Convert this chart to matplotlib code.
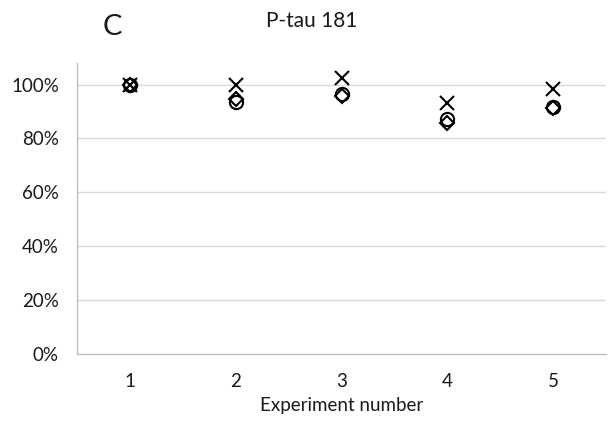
import matplotlib
matplotlib.use("Agg")
import matplotlib.pyplot as plt
from matplotlib.ticker import PercentFormatter

plt.rcParams['font.family'] = ['Lato', 'DejaVu Sans']

experiments = [1, 2, 3, 4, 5]
series_x = [1.00, 1.00, 1.024, 0.931, 0.983]
series_circle = [1.00, 0.937, 0.965, 0.871, 0.918]
series_diamond = [1.00, 0.945, 0.958, 0.856, 0.912]
y_ticks = [0, 0.2, 0.4, 0.6, 0.8, 1.0]

fig = plt.figure(figsize=(6.13, 4.34), dpi=100)
ax = fig.add_axes([0.1256, 0.1843, 0.863, 0.6705])

grid_c = '#d9d9d9'
axis_c = '#bfbfbf'
text_c = '#1a1a1a'

ax.plot(experiments, series_diamond, linestyle='none', marker='D', ms=7.5,
        mfc='none', mec='black', mew=1.5, zorder=3)
ax.plot(experiments, series_circle, linestyle='none', marker='o', ms=9.5,
        mfc='none', mec='black', mew=1.5, zorder=3)
ax.plot(experiments, series_x, linestyle='none', marker='x', ms=9.5,
        mec='black', mew=1.5, zorder=4)

ax.set_xlim(0.5, 5.5)
ax.set_ylim(0, 1.08)
ax.set_yticks(y_ticks)
ax.yaxis.set_major_formatter(PercentFormatter(1.0, decimals=0))
ax.set_xticks(experiments)

for y in y_ticks[1:]:
    ax.axhline(y, color=grid_c, lw=1, zorder=1)

for s in ['top', 'right']:
    ax.spines[s].set_visible(False)
for s in ['left', 'bottom']:
    ax.spines[s].set_color(axis_c)
    ax.spines[s].set_linewidth(1)

ax.tick_params(axis='both', length=0, labelsize=13.5, colors=text_c)
ax.tick_params(axis='y', pad=13)
ax.tick_params(axis='x', pad=14)

ax.set_xlabel('Experiment number', fontsize=13.5, color=text_c, labelpad=5)

fig.text(112 / 613, 1 - 27 / 434, 'C', fontsize=21, ha='center', va='center', color=text_c)
fig.text(312 / 613, 1 - 21 / 434, 'P-tau 181', fontsize=15, ha='center', va='center', color=text_c)

fig.savefig('out.png', dpi=100)
